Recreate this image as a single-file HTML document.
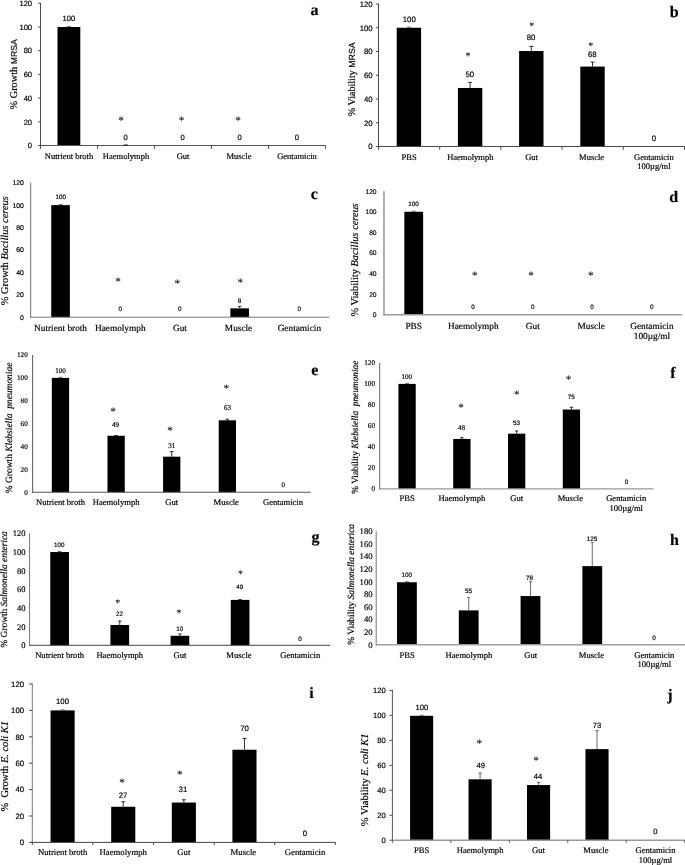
<!DOCTYPE html>
<html lang="en"><head><meta charset="utf-8"><title>Figure</title>
<style>
html,body{margin:0;padding:0;background:#fff;}
svg{display:block;}
text{fill:#000;text-rendering:geometricPrecision;stroke:#000;stroke-width:0.18px;}
.s{font-family:'Liberation Sans', sans-serif;}
.r{font-family:'Liberation Serif', serif;}
.m{text-anchor:middle;} .e{text-anchor:end;} .b{text-anchor:start;}
</style></head><body>
<svg width="685" height="865" viewBox="0 0 685 865">
<rect x="0" y="0" width="685" height="865" fill="#ffffff"/>
<rect x="57.50" y="27.00" width="22.80" height="118.50" fill="#000"/>
<line x1="66.90" y1="26.45" x2="70.90" y2="26.45" stroke="#333" stroke-width="0.7"/>
<line x1="40.50" y1="2.80" x2="40.50" y2="146.00" stroke="#4a4a4a" stroke-width="1.0"/>
<line x1="40.00" y1="145.50" x2="325.50" y2="145.50" stroke="#555" stroke-width="1.0"/>
<line x1="37.90" y1="145.50" x2="40.50" y2="145.50" stroke="#555" stroke-width="1.0"/>
<line x1="37.90" y1="121.80" x2="40.50" y2="121.80" stroke="#555" stroke-width="1.0"/>
<line x1="37.90" y1="98.10" x2="40.50" y2="98.10" stroke="#555" stroke-width="1.0"/>
<line x1="37.90" y1="74.40" x2="40.50" y2="74.40" stroke="#555" stroke-width="1.0"/>
<line x1="37.90" y1="50.70" x2="40.50" y2="50.70" stroke="#555" stroke-width="1.0"/>
<line x1="37.90" y1="27.00" x2="40.50" y2="27.00" stroke="#555" stroke-width="1.0"/>
<line x1="37.90" y1="3.30" x2="40.50" y2="3.30" stroke="#555" stroke-width="1.0"/>
<line x1="40.50" y1="145.50" x2="40.50" y2="148.80" stroke="#4a4a4a" stroke-width="1.0"/>
<line x1="97.50" y1="145.50" x2="97.50" y2="148.80" stroke="#4a4a4a" stroke-width="1.0"/>
<line x1="154.50" y1="145.50" x2="154.50" y2="148.80" stroke="#4a4a4a" stroke-width="1.0"/>
<line x1="211.50" y1="145.50" x2="211.50" y2="148.80" stroke="#4a4a4a" stroke-width="1.0"/>
<line x1="268.50" y1="145.50" x2="268.50" y2="148.80" stroke="#4a4a4a" stroke-width="1.0"/>
<line x1="325.50" y1="145.50" x2="325.50" y2="148.80" stroke="#4a4a4a" stroke-width="1.0"/>
<text class="s e" x="32.10" y="148.24" font-size="7.6">0</text>
<text class="s e" x="32.10" y="124.54" font-size="7.6">20</text>
<text class="s e" x="32.10" y="100.84" font-size="7.6">40</text>
<text class="s e" x="32.10" y="77.14" font-size="7.6">60</text>
<text class="s e" x="32.10" y="53.44" font-size="7.6">80</text>
<text class="s e" x="32.10" y="29.74" font-size="7.6">100</text>
<text class="s e" x="32.10" y="6.04" font-size="7.6">120</text>
<text class="r m" x="69.00" y="159.00" font-size="8.5">Nutrient broth</text>
<text class="r m" x="126.00" y="159.00" font-size="8.5">Haemolymph</text>
<text class="r m" x="183.00" y="159.00" font-size="8.5">Gut</text>
<text class="r m" x="238.90" y="159.00" font-size="8.5">Muscle</text>
<text class="r m" x="297.00" y="159.00" font-size="8.5">Gentamicin</text>
<text class="s m" x="68.80" y="21.04" font-size="7.6">100</text>
<text class="s m" x="125.60" y="139.84" font-size="7.6">0</text>
<text class="s m" x="182.60" y="139.84" font-size="7.6">0</text>
<text class="s m" x="239.60" y="139.84" font-size="7.6">0</text>
<text class="s m" x="296.80" y="139.84" font-size="7.6">0</text>
<text class="r m" x="121.00" y="123.82" font-size="11.2" style="stroke-width:0.1px">*</text>
<text class="r m" x="181.50" y="124.32" font-size="11.2" style="stroke-width:0.1px">*</text>
<text class="r m" x="238.00" y="123.82" font-size="11.2" style="stroke-width:0.1px">*</text>
<text class="r m" transform="translate(17.40,74.30) rotate(-90)" font-size="10.3" xml:space="preserve" style="white-space:pre"><tspan class="r">% Growth </tspan><tspan class="s" font-size="8.7">MRSA</tspan></text>
<line x1="123.80" y1="145.00" x2="127.90" y2="145.00" stroke="#000" stroke-width="0.9"/>
<text class="r m" x="314.60" y="14.70" font-size="16" font-weight="bold">a</text>
<rect x="396.70" y="27.75" width="24.40" height="118.75" fill="#000"/>
<line x1="406.90" y1="27.20" x2="410.90" y2="27.20" stroke="#333" stroke-width="0.7"/>
<rect x="457.90" y="87.96" width="24.40" height="58.54" fill="#000"/>
<line x1="470.10" y1="87.96" x2="470.10" y2="82.38" stroke="#000" stroke-width="0.8"/>
<line x1="468.10" y1="82.38" x2="472.10" y2="82.38" stroke="#000" stroke-width="0.8"/>
<rect x="519.10" y="51.02" width="24.40" height="95.48" fill="#000"/>
<line x1="531.30" y1="51.02" x2="531.30" y2="46.39" stroke="#000" stroke-width="0.8"/>
<line x1="529.30" y1="46.39" x2="533.30" y2="46.39" stroke="#000" stroke-width="0.8"/>
<rect x="580.30" y="66.58" width="24.40" height="79.92" fill="#000"/>
<line x1="592.50" y1="66.58" x2="592.50" y2="62.07" stroke="#000" stroke-width="0.8"/>
<line x1="590.50" y1="62.07" x2="594.50" y2="62.07" stroke="#000" stroke-width="0.8"/>
<line x1="378.50" y1="3.50" x2="378.50" y2="147.00" stroke="#4a4a4a" stroke-width="1.0"/>
<line x1="378.00" y1="146.50" x2="684.50" y2="146.50" stroke="#4a4a4a" stroke-width="1.0"/>
<line x1="375.90" y1="146.50" x2="378.50" y2="146.50" stroke="#4a4a4a" stroke-width="1.0"/>
<line x1="375.90" y1="122.75" x2="378.50" y2="122.75" stroke="#4a4a4a" stroke-width="1.0"/>
<line x1="375.90" y1="99.00" x2="378.50" y2="99.00" stroke="#4a4a4a" stroke-width="1.0"/>
<line x1="375.90" y1="75.25" x2="378.50" y2="75.25" stroke="#4a4a4a" stroke-width="1.0"/>
<line x1="375.90" y1="51.50" x2="378.50" y2="51.50" stroke="#4a4a4a" stroke-width="1.0"/>
<line x1="375.90" y1="27.75" x2="378.50" y2="27.75" stroke="#4a4a4a" stroke-width="1.0"/>
<line x1="375.90" y1="4.00" x2="378.50" y2="4.00" stroke="#4a4a4a" stroke-width="1.0"/>
<line x1="378.50" y1="146.50" x2="378.50" y2="149.80" stroke="#4a4a4a" stroke-width="1.0"/>
<line x1="439.70" y1="146.50" x2="439.70" y2="149.80" stroke="#4a4a4a" stroke-width="1.0"/>
<line x1="500.90" y1="146.50" x2="500.90" y2="149.80" stroke="#4a4a4a" stroke-width="1.0"/>
<line x1="562.10" y1="146.50" x2="562.10" y2="149.80" stroke="#4a4a4a" stroke-width="1.0"/>
<line x1="623.30" y1="146.50" x2="623.30" y2="149.80" stroke="#4a4a4a" stroke-width="1.0"/>
<line x1="684.50" y1="146.50" x2="684.50" y2="149.80" stroke="#4a4a4a" stroke-width="1.0"/>
<text class="s e" x="372.70" y="149.31" font-size="7.8">0</text>
<text class="s e" x="372.70" y="125.56" font-size="7.8">20</text>
<text class="s e" x="372.70" y="101.81" font-size="7.8">40</text>
<text class="s e" x="372.70" y="78.06" font-size="7.8">60</text>
<text class="s e" x="372.70" y="54.31" font-size="7.8">80</text>
<text class="s e" x="372.70" y="30.56" font-size="7.8">100</text>
<text class="s e" x="372.70" y="6.81" font-size="7.8">120</text>
<text class="r m" x="409.10" y="160.20" font-size="8.5">PBS</text>
<text class="r m" x="470.30" y="160.20" font-size="8.5">Haemolymph</text>
<text class="r m" x="531.50" y="160.20" font-size="8.5">Gut</text>
<text class="r m" x="591.60" y="160.20" font-size="8.5">Muscle</text>
<text class="r m" x="653.90" y="160.20" font-size="8.5">Gentamicin</text>
<text class="r m" x="653.90" y="169.40" font-size="8.5">100µg/ml</text>
<text class="s m" x="409.30" y="22.11" font-size="7.8">100</text>
<text class="s m" x="469.80" y="77.11" font-size="7.8">50</text>
<text class="s m" x="531.10" y="40.01" font-size="7.8">80</text>
<text class="s m" x="592.30" y="57.01" font-size="7.8">68</text>
<text class="s m" x="653.90" y="140.91" font-size="7.8">0</text>
<text class="r m" x="468.00" y="58.95" font-size="10" style="stroke-width:0.1px">*</text>
<text class="r m" x="531.80" y="28.85" font-size="10" style="stroke-width:0.1px">*</text>
<text class="r m" x="590.80" y="49.45" font-size="10" style="stroke-width:0.1px">*</text>
<text class="r m" transform="translate(354.90,79.30) rotate(-90)" font-size="10.1" xml:space="preserve" style="white-space:pre"><tspan class="r">% Viability </tspan><tspan class="s" font-size="8.8">MRSA</tspan></text>
<text class="r m" x="674.20" y="16.60" font-size="16" font-weight="bold">b</text>
<rect x="51.25" y="205.12" width="18.60" height="112.08" fill="#000"/>
<line x1="58.55" y1="204.57" x2="62.55" y2="204.57" stroke="#333" stroke-width="0.7"/>
<rect x="230.35" y="308.35" width="18.60" height="8.85" fill="#000"/>
<line x1="239.65" y1="308.35" x2="239.65" y2="306.33" stroke="#000" stroke-width="0.8"/>
<line x1="237.90" y1="306.33" x2="241.40" y2="306.33" stroke="#000" stroke-width="0.8"/>
<line x1="30.70" y1="182.70" x2="30.70" y2="317.70" stroke="#6e6e6e" stroke-width="1.0"/>
<line x1="30.20" y1="317.20" x2="329.20" y2="317.20" stroke="#777" stroke-width="1.0"/>
<text class="s e" x="23.90" y="319.68" font-size="6.9">0</text>
<text class="s e" x="23.90" y="297.27" font-size="6.9">20</text>
<text class="s e" x="23.90" y="274.85" font-size="6.9">40</text>
<text class="s e" x="23.90" y="252.43" font-size="6.9">60</text>
<text class="s e" x="23.90" y="230.02" font-size="6.9">80</text>
<text class="s e" x="23.90" y="207.60" font-size="6.9">100</text>
<text class="s e" x="23.90" y="185.18" font-size="6.9">120</text>
<text class="r m" x="60.55" y="330.70" font-size="9.3">Nutrient broth</text>
<text class="r m" x="120.25" y="330.70" font-size="9.3">Haemolymph</text>
<text class="r m" x="179.95" y="330.70" font-size="9.3">Gut</text>
<text class="r m" x="238.55" y="330.70" font-size="9.3">Muscle</text>
<text class="r m" x="299.35" y="330.70" font-size="9.3">Gentamicin</text>
<text class="s m" x="60.80" y="198.87" font-size="6.3">100</text>
<text class="s m" x="120.30" y="311.07" font-size="6.3">0</text>
<text class="s m" x="179.80" y="311.07" font-size="6.3">0</text>
<text class="s m" x="239.50" y="302.57" font-size="6.3">8</text>
<text class="s m" x="299.30" y="311.07" font-size="6.3">0</text>
<text class="r m" x="118.00" y="285.32" font-size="11.2" style="stroke-width:0.1px">*</text>
<text class="r m" x="177.30" y="287.32" font-size="11.2" style="stroke-width:0.1px">*</text>
<text class="r m" x="240.30" y="285.82" font-size="11.2" style="stroke-width:0.1px">*</text>
<text class="r m" transform="translate(8.00,250.70) rotate(-90)" font-size="10.4" xml:space="preserve" style="white-space:pre"><tspan class="r">% Growth </tspan><tspan class="r" font-style="italic">Bacillus cereus</tspan></text>
<text class="r m" x="314.40" y="198.90" font-size="16" font-weight="bold">c</text>
<rect x="404.33" y="211.78" width="18.80" height="102.92" fill="#000"/>
<line x1="411.73" y1="211.23" x2="415.73" y2="211.23" stroke="#333" stroke-width="0.7"/>
<line x1="383.95" y1="191.20" x2="383.95" y2="315.45" stroke="#999" stroke-width="1.5"/>
<line x1="383.20" y1="314.70" x2="681.70" y2="314.70" stroke="#999" stroke-width="1.5"/>
<text class="s e" x="376.60" y="317.11" font-size="6.7">0</text>
<text class="s e" x="376.60" y="296.53" font-size="6.7">20</text>
<text class="s e" x="376.60" y="275.95" font-size="6.7">40</text>
<text class="s e" x="376.60" y="255.36" font-size="6.7">60</text>
<text class="s e" x="376.60" y="234.78" font-size="6.7">80</text>
<text class="s e" x="376.60" y="214.20" font-size="6.7">100</text>
<text class="s e" x="376.60" y="193.61" font-size="6.7">120</text>
<text class="r m" x="413.73" y="328.90" font-size="9.3">PBS</text>
<text class="r m" x="473.27" y="328.90" font-size="9.3">Haemolymph</text>
<text class="r m" x="532.83" y="328.90" font-size="9.3">Gut</text>
<text class="r m" x="591.27" y="328.90" font-size="9.3">Muscle</text>
<text class="r m" x="651.92" y="328.90" font-size="9.3">Gentamicin</text>
<text class="r m" x="651.92" y="338.70" font-size="9.3">100µg/ml</text>
<text class="s m" x="413.50" y="205.87" font-size="6.3">100</text>
<text class="s m" x="473.10" y="309.07" font-size="6.3">0</text>
<text class="s m" x="532.80" y="309.07" font-size="6.3">0</text>
<text class="s m" x="592.10" y="309.07" font-size="6.3">0</text>
<text class="s m" x="651.80" y="309.07" font-size="6.3">0</text>
<text class="r m" x="474.80" y="278.72" font-size="11.2" style="stroke-width:0.1px">*</text>
<text class="r m" x="531.10" y="278.72" font-size="11.2" style="stroke-width:0.1px">*</text>
<text class="r m" x="590.80" y="278.72" font-size="11.2" style="stroke-width:0.1px">*</text>
<text class="r m" transform="translate(358.00,259.80) rotate(-90)" font-size="10.4" xml:space="preserve" style="white-space:pre"><tspan class="r">% Viability </tspan><tspan class="r" font-style="italic">Bacillus cereus</tspan></text>
<text class="r m" x="673.70" y="201.60" font-size="16" font-weight="bold">d</text>
<rect x="51.82" y="377.88" width="17.30" height="114.38" fill="#000"/>
<line x1="58.47" y1="377.32" x2="62.47" y2="377.32" stroke="#333" stroke-width="0.7"/>
<rect x="107.45" y="435.75" width="17.30" height="56.50" fill="#000"/>
<line x1="116.10" y1="435.75" x2="116.10" y2="435.41" stroke="#000" stroke-width="0.8"/>
<line x1="114.35" y1="435.41" x2="117.85" y2="435.41" stroke="#000" stroke-width="0.8"/>
<rect x="163.08" y="456.68" width="17.30" height="35.57" fill="#000"/>
<line x1="171.73" y1="456.68" x2="171.73" y2="451.65" stroke="#000" stroke-width="0.8"/>
<line x1="169.98" y1="451.65" x2="173.48" y2="451.65" stroke="#000" stroke-width="0.8"/>
<rect x="218.71" y="420.31" width="17.30" height="71.94" fill="#000"/>
<line x1="227.36" y1="420.31" x2="227.36" y2="419.16" stroke="#000" stroke-width="0.8"/>
<line x1="225.61" y1="419.16" x2="229.11" y2="419.16" stroke="#000" stroke-width="0.8"/>
<line x1="32.65" y1="355.00" x2="32.65" y2="492.75" stroke="#555" stroke-width="1.0"/>
<line x1="32.15" y1="492.25" x2="310.80" y2="492.25" stroke="#555" stroke-width="1.0"/>
<text class="r e" x="27.80" y="494.66" font-size="7.2">0</text>
<text class="r e" x="27.80" y="471.79" font-size="7.2">20</text>
<text class="r e" x="27.80" y="448.91" font-size="7.2">40</text>
<text class="r e" x="27.80" y="426.04" font-size="7.2">60</text>
<text class="r e" x="27.80" y="403.16" font-size="7.2">80</text>
<text class="r e" x="27.80" y="380.29" font-size="7.2">100</text>
<text class="r e" x="27.80" y="357.41" font-size="7.2">120</text>
<text class="r m" x="60.47" y="505.00" font-size="8.6">Nutrient broth</text>
<text class="r m" x="116.10" y="505.00" font-size="8.6">Haemolymph</text>
<text class="r m" x="171.73" y="505.00" font-size="8.6">Gut</text>
<text class="r m" x="226.26" y="505.00" font-size="8.6">Muscle</text>
<text class="r m" x="282.99" y="505.00" font-size="8.6">Gentamicin</text>
<text class="r m" x="60.50" y="372.98" font-size="7.1">100</text>
<text class="r m" x="115.50" y="427.28" font-size="7.1">49</text>
<text class="r m" x="171.80" y="448.08" font-size="7.1">31</text>
<text class="r m" x="227.50" y="410.18" font-size="7.1">63</text>
<text class="r m" x="283.20" y="487.28" font-size="7.1">0</text>
<text class="r m" x="113.00" y="414.82" font-size="11.2" style="stroke-width:0.1px">*</text>
<text class="r m" x="170.00" y="434.42" font-size="11.2" style="stroke-width:0.1px">*</text>
<text class="r m" x="226.20" y="391.52" font-size="11.2" style="stroke-width:0.1px">*</text>
<text class="r m" transform="translate(12.00,427.90) rotate(-90)" font-size="9.45" xml:space="preserve" style="white-space:pre"><tspan class="r">% Growth </tspan><tspan class="r" font-style="italic">Klebsiella  pneumoniae</tspan></text>
<text class="r m" x="314.90" y="375.30" font-size="16" font-weight="bold">e</text>
<rect x="398.44" y="383.90" width="17.30" height="105.00" fill="#000"/>
<line x1="405.09" y1="383.35" x2="409.09" y2="383.35" stroke="#333" stroke-width="0.7"/>
<rect x="453.22" y="438.92" width="17.30" height="49.98" fill="#000"/>
<line x1="461.87" y1="438.92" x2="461.87" y2="437.66" stroke="#000" stroke-width="0.8"/>
<line x1="460.12" y1="437.66" x2="463.62" y2="437.66" stroke="#000" stroke-width="0.8"/>
<rect x="508.00" y="433.67" width="17.30" height="55.23" fill="#000"/>
<line x1="516.65" y1="433.67" x2="516.65" y2="430.94" stroke="#000" stroke-width="0.8"/>
<line x1="514.90" y1="430.94" x2="518.40" y2="430.94" stroke="#000" stroke-width="0.8"/>
<rect x="562.78" y="409.52" width="17.30" height="79.38" fill="#000"/>
<line x1="571.43" y1="409.52" x2="571.43" y2="407.31" stroke="#000" stroke-width="0.8"/>
<line x1="569.68" y1="407.31" x2="573.18" y2="407.31" stroke="#000" stroke-width="0.8"/>
<line x1="379.70" y1="362.90" x2="379.70" y2="489.55" stroke="#666" stroke-width="1.0"/>
<line x1="379.20" y1="488.90" x2="653.60" y2="488.90" stroke="#999" stroke-width="1.3"/>
<text class="r e" x="375.10" y="491.35" font-size="7.3">0</text>
<text class="r e" x="375.10" y="470.35" font-size="7.3">20</text>
<text class="r e" x="375.10" y="449.35" font-size="7.3">40</text>
<text class="r e" x="375.10" y="428.35" font-size="7.3">60</text>
<text class="r e" x="375.10" y="407.35" font-size="7.3">80</text>
<text class="r e" x="375.10" y="386.35" font-size="7.3">100</text>
<text class="r e" x="375.10" y="365.35" font-size="7.3">120</text>
<text class="r m" x="407.09" y="501.40" font-size="8.6">PBS</text>
<text class="r m" x="461.87" y="501.40" font-size="8.6">Haemolymph</text>
<text class="r m" x="516.65" y="501.40" font-size="8.6">Gut</text>
<text class="r m" x="570.33" y="501.40" font-size="8.6">Muscle</text>
<text class="r m" x="626.21" y="501.40" font-size="8.6">Gentamicin</text>
<text class="r m" x="626.21" y="511.20" font-size="8.6">100µg/ml</text>
<text class="r m" x="406.80" y="378.78" font-size="7.1">100</text>
<text class="r m" x="461.50" y="430.48" font-size="7.1">48</text>
<text class="s m" x="516.40" y="424.87" font-size="6.3">53</text>
<text class="s m" x="571.30" y="399.27" font-size="6.3">75</text>
<text class="s m" x="626.50" y="484.17" font-size="6.3">0</text>
<text class="r m" x="461.00" y="410.62" font-size="11.2" style="stroke-width:0.1px">*</text>
<text class="r m" x="516.90" y="398.32" font-size="11.2" style="stroke-width:0.1px">*</text>
<text class="r m" x="568.60" y="383.02" font-size="11.2" style="stroke-width:0.1px">*</text>
<text class="r m" transform="translate(357.60,427.20) rotate(-90)" font-size="9.35" xml:space="preserve" style="white-space:pre"><tspan class="r">% Viability </tspan><tspan class="r" font-style="italic">Klebsiella  pneumoniae</tspan></text>
<text class="r m" x="673.00" y="378.10" font-size="16" font-weight="bold">f</text>
<rect x="50.27" y="552.05" width="18.70" height="93.25" fill="#000"/>
<line x1="57.62" y1="551.50" x2="61.62" y2="551.50" stroke="#333" stroke-width="0.7"/>
<rect x="110.42" y="624.97" width="18.70" height="20.33" fill="#000"/>
<line x1="119.77" y1="624.97" x2="119.77" y2="621.15" stroke="#000" stroke-width="0.8"/>
<line x1="118.02" y1="621.15" x2="121.52" y2="621.15" stroke="#000" stroke-width="0.8"/>
<rect x="170.58" y="635.79" width="18.70" height="9.51" fill="#000"/>
<line x1="179.93" y1="635.79" x2="179.93" y2="634.02" stroke="#000" stroke-width="0.8"/>
<line x1="178.18" y1="634.02" x2="181.68" y2="634.02" stroke="#000" stroke-width="0.8"/>
<rect x="230.73" y="599.89" width="18.70" height="45.41" fill="#000"/>
<line x1="240.08" y1="599.89" x2="240.08" y2="599.61" stroke="#000" stroke-width="0.8"/>
<line x1="238.33" y1="599.61" x2="241.83" y2="599.61" stroke="#000" stroke-width="0.8"/>
<line x1="29.55" y1="533.40" x2="29.55" y2="645.80" stroke="#777" stroke-width="1.0"/>
<line x1="29.05" y1="645.30" x2="330.30" y2="645.30" stroke="#444" stroke-width="1.0"/>
<text class="r e" x="25.60" y="648.15" font-size="8.5">0</text>
<text class="r e" x="25.60" y="629.50" font-size="8.5">20</text>
<text class="r e" x="25.60" y="610.85" font-size="8.5">40</text>
<text class="r e" x="25.60" y="592.20" font-size="8.5">60</text>
<text class="r e" x="25.60" y="573.55" font-size="8.5">80</text>
<text class="r e" x="25.60" y="554.90" font-size="8.5">100</text>
<text class="r e" x="25.60" y="536.25" font-size="8.5">120</text>
<text class="r m" x="59.62" y="658.20" font-size="8.6">Nutrient broth</text>
<text class="r m" x="119.77" y="658.20" font-size="8.6">Haemolymph</text>
<text class="r m" x="179.93" y="658.20" font-size="8.6">Gut</text>
<text class="r m" x="238.98" y="658.20" font-size="8.6">Muscle</text>
<text class="r m" x="300.23" y="658.20" font-size="8.6">Gentamicin</text>
<text class="s m" x="59.30" y="546.97" font-size="6.3">100</text>
<text class="s m" x="119.60" y="615.97" font-size="6.3">22</text>
<text class="s m" x="179.80" y="630.77" font-size="6.3">10</text>
<text class="s m" x="239.80" y="589.37" font-size="6.3">49</text>
<text class="s m" x="300.00" y="640.57" font-size="6.3">0</text>
<text class="r m" x="117.80" y="606.15" font-size="10" style="stroke-width:0.1px">*</text>
<text class="r m" x="179.10" y="615.95" font-size="10" style="stroke-width:0.1px">*</text>
<text class="r m" x="240.60" y="577.05" font-size="10" style="stroke-width:0.1px">*</text>
<text class="r m" transform="translate(6.60,589.40) rotate(-90)" font-size="9.4" xml:space="preserve" style="white-space:pre"><tspan class="r">% Growth </tspan><tspan class="r" font-style="italic">Salmonella enterica</tspan></text>
<text class="r m" x="315.50" y="541.90" font-size="16" font-weight="bold">g</text>
<rect x="397.03" y="582.25" width="19.80" height="62.55" fill="#000"/>
<line x1="404.93" y1="581.70" x2="408.93" y2="581.70" stroke="#333" stroke-width="0.7"/>
<rect x="458.81" y="610.37" width="19.80" height="34.43" fill="#000"/>
<line x1="468.71" y1="610.37" x2="468.71" y2="597.51" stroke="#4a4a4a" stroke-width="0.8"/>
<line x1="467.21" y1="597.51" x2="470.21" y2="597.51" stroke="#4a4a4a" stroke-width="0.8"/>
<rect x="520.59" y="596.06" width="19.80" height="48.74" fill="#000"/>
<line x1="530.49" y1="596.06" x2="530.49" y2="581.74" stroke="#4a4a4a" stroke-width="0.8"/>
<line x1="528.99" y1="581.74" x2="531.99" y2="581.74" stroke="#4a4a4a" stroke-width="0.8"/>
<rect x="582.37" y="566.11" width="19.80" height="78.69" fill="#000"/>
<line x1="592.27" y1="566.11" x2="592.27" y2="542.33" stroke="#4a4a4a" stroke-width="0.8"/>
<line x1="590.77" y1="542.33" x2="593.77" y2="542.33" stroke="#4a4a4a" stroke-width="0.8"/>
<line x1="376.30" y1="531.30" x2="376.30" y2="645.55" stroke="#a0a0a0" stroke-width="1.5"/>
<line x1="375.55" y1="644.80" x2="685.20" y2="644.80" stroke="#a0a0a0" stroke-width="1.5"/>
<text class="r e" x="372.50" y="647.68" font-size="8.6">0</text>
<text class="r e" x="372.50" y="635.07" font-size="8.6">20</text>
<text class="r e" x="372.50" y="622.46" font-size="8.6">40</text>
<text class="r e" x="372.50" y="609.85" font-size="8.6">60</text>
<text class="r e" x="372.50" y="597.24" font-size="8.6">80</text>
<text class="r e" x="372.50" y="584.63" font-size="8.6">100</text>
<text class="r e" x="372.50" y="572.01" font-size="8.6">120</text>
<text class="r e" x="372.50" y="559.40" font-size="8.6">140</text>
<text class="r e" x="372.50" y="546.79" font-size="8.6">160</text>
<text class="r e" x="372.50" y="534.18" font-size="8.6">180</text>
<text class="r m" x="407.19" y="657.90" font-size="8.6">PBS</text>
<text class="r m" x="468.97" y="657.90" font-size="8.6">Haemolymph</text>
<text class="r m" x="530.75" y="657.90" font-size="8.6">Gut</text>
<text class="r m" x="591.43" y="657.90" font-size="8.6">Muscle</text>
<text class="r m" x="654.31" y="657.90" font-size="8.6">Gentamicin</text>
<text class="r m" x="654.31" y="667.10" font-size="8.6">100µg/ml</text>
<text class="s m" x="406.80" y="576.77" font-size="6.3">100</text>
<text class="s m" x="468.50" y="592.67" font-size="6.3">55</text>
<text class="s m" x="529.60" y="579.87" font-size="6.3">78</text>
<text class="s m" x="592.10" y="540.67" font-size="6.3">125</text>
<text class="s m" x="653.90" y="639.57" font-size="6.3">0</text>
<text class="r m" transform="translate(353.80,584.30) rotate(-90)" font-size="9.42" xml:space="preserve" style="white-space:pre"><tspan class="r">% Viability </tspan><tspan class="r" font-style="italic">Salmonella enterica</tspan></text>
<text class="r m" x="674.40" y="544.70" font-size="16" font-weight="bold">h</text>
<rect x="50.56" y="710.40" width="24.10" height="132.00" fill="#000"/>
<line x1="60.61" y1="709.85" x2="64.61" y2="709.85" stroke="#333" stroke-width="0.7"/>
<rect x="111.18" y="806.76" width="24.10" height="35.64" fill="#000"/>
<line x1="123.23" y1="806.76" x2="123.23" y2="801.74" stroke="#000" stroke-width="0.8"/>
<line x1="121.23" y1="801.74" x2="125.23" y2="801.74" stroke="#000" stroke-width="0.8"/>
<rect x="171.80" y="802.54" width="24.10" height="39.86" fill="#000"/>
<line x1="183.85" y1="802.54" x2="183.85" y2="799.76" stroke="#000" stroke-width="0.8"/>
<line x1="181.85" y1="799.76" x2="185.85" y2="799.76" stroke="#000" stroke-width="0.8"/>
<rect x="232.42" y="749.74" width="24.10" height="92.66" fill="#000"/>
<line x1="244.47" y1="749.74" x2="244.47" y2="738.52" stroke="#000" stroke-width="0.8"/>
<line x1="242.47" y1="738.52" x2="246.47" y2="738.52" stroke="#000" stroke-width="0.8"/>
<line x1="32.30" y1="683.50" x2="32.30" y2="842.90" stroke="#777" stroke-width="1.0"/>
<line x1="31.80" y1="842.40" x2="335.40" y2="842.40" stroke="#444" stroke-width="1.0"/>
<line x1="29.10" y1="842.40" x2="32.30" y2="842.40" stroke="#444" stroke-width="1.0"/>
<line x1="29.10" y1="816.00" x2="32.30" y2="816.00" stroke="#444" stroke-width="1.0"/>
<line x1="29.10" y1="789.60" x2="32.30" y2="789.60" stroke="#444" stroke-width="1.0"/>
<line x1="29.10" y1="763.20" x2="32.30" y2="763.20" stroke="#444" stroke-width="1.0"/>
<line x1="29.10" y1="736.80" x2="32.30" y2="736.80" stroke="#444" stroke-width="1.0"/>
<line x1="29.10" y1="710.40" x2="32.30" y2="710.40" stroke="#444" stroke-width="1.0"/>
<line x1="29.10" y1="684.00" x2="32.30" y2="684.00" stroke="#444" stroke-width="1.0"/>
<line x1="32.30" y1="842.40" x2="32.30" y2="845.00" stroke="#444" stroke-width="1.0"/>
<line x1="92.92" y1="842.40" x2="92.92" y2="845.00" stroke="#444" stroke-width="1.0"/>
<line x1="153.54" y1="842.40" x2="153.54" y2="845.00" stroke="#444" stroke-width="1.0"/>
<line x1="214.16" y1="842.40" x2="214.16" y2="845.00" stroke="#444" stroke-width="1.0"/>
<line x1="274.78" y1="842.40" x2="274.78" y2="845.00" stroke="#444" stroke-width="1.0"/>
<line x1="335.40" y1="842.40" x2="335.40" y2="845.00" stroke="#444" stroke-width="1.0"/>
<text class="s e" x="24.10" y="845.21" font-size="7.8">0</text>
<text class="s e" x="24.10" y="818.81" font-size="7.8">20</text>
<text class="s e" x="24.10" y="792.41" font-size="7.8">40</text>
<text class="s e" x="24.10" y="766.01" font-size="7.8">60</text>
<text class="s e" x="24.10" y="739.61" font-size="7.8">80</text>
<text class="s e" x="24.10" y="713.21" font-size="7.8">100</text>
<text class="s e" x="24.10" y="686.81" font-size="7.8">120</text>
<text class="r m" x="62.61" y="855.20" font-size="8.7">Nutrient broth</text>
<text class="r m" x="123.23" y="855.20" font-size="8.7">Haemolymph</text>
<text class="r m" x="183.85" y="855.20" font-size="8.7">Gut</text>
<text class="r m" x="243.37" y="855.20" font-size="8.7">Muscle</text>
<text class="r m" x="305.09" y="855.20" font-size="8.7">Gentamicin</text>
<text class="s m" x="62.50" y="704.41" font-size="7.8">100</text>
<text class="s m" x="123.00" y="797.51" font-size="7.8">27</text>
<text class="s m" x="182.90" y="792.21" font-size="7.8">31</text>
<text class="s m" x="244.60" y="731.31" font-size="7.8">70</text>
<text class="s m" x="304.80" y="836.21" font-size="7.8">0</text>
<text class="r m" x="122.00" y="785.72" font-size="11.2" style="stroke-width:0.1px">*</text>
<text class="r m" x="179.80" y="778.22" font-size="11.2" style="stroke-width:0.1px">*</text>
<text class="r m" transform="translate(7.80,766.30) rotate(-90)" font-size="10.45" xml:space="preserve" style="white-space:pre"><tspan class="r">%  Growth </tspan><tspan class="r" font-style="italic">E. coli K1</tspan></text>
<text class="r m" x="311.60" y="697.60" font-size="16" font-weight="bold">i</text>
<rect x="410.08" y="715.82" width="23.10" height="124.38" fill="#000"/>
<line x1="419.63" y1="715.27" x2="423.63" y2="715.27" stroke="#333" stroke-width="0.7"/>
<rect x="468.54" y="779.32" width="23.10" height="60.88" fill="#000"/>
<line x1="480.09" y1="779.32" x2="480.09" y2="773.08" stroke="#444" stroke-width="0.8"/>
<line x1="478.34" y1="773.08" x2="481.84" y2="773.08" stroke="#444" stroke-width="0.8"/>
<rect x="527.00" y="785.06" width="23.10" height="55.14" fill="#000"/>
<line x1="538.55" y1="785.06" x2="538.55" y2="782.32" stroke="#444" stroke-width="0.8"/>
<line x1="536.80" y1="782.32" x2="540.30" y2="782.32" stroke="#444" stroke-width="0.8"/>
<rect x="585.46" y="749.13" width="23.10" height="91.07" fill="#000"/>
<line x1="597.01" y1="749.13" x2="597.01" y2="730.67" stroke="#444" stroke-width="0.8"/>
<line x1="595.26" y1="730.67" x2="598.76" y2="730.67" stroke="#444" stroke-width="0.8"/>
<line x1="392.40" y1="689.70" x2="392.40" y2="841.00" stroke="#555" stroke-width="1.0"/>
<line x1="391.90" y1="840.20" x2="684.70" y2="840.20" stroke="#999" stroke-width="1.6"/>
<line x1="389.40" y1="840.20" x2="392.40" y2="840.20" stroke="#555" stroke-width="1.0"/>
<line x1="389.40" y1="815.25" x2="392.40" y2="815.25" stroke="#555" stroke-width="1.0"/>
<line x1="389.40" y1="790.30" x2="392.40" y2="790.30" stroke="#555" stroke-width="1.0"/>
<line x1="389.40" y1="765.35" x2="392.40" y2="765.35" stroke="#555" stroke-width="1.0"/>
<line x1="389.40" y1="740.40" x2="392.40" y2="740.40" stroke="#555" stroke-width="1.0"/>
<line x1="389.40" y1="715.45" x2="392.40" y2="715.45" stroke="#555" stroke-width="1.0"/>
<line x1="389.40" y1="690.50" x2="392.40" y2="690.50" stroke="#555" stroke-width="1.0"/>
<line x1="392.40" y1="840.20" x2="392.40" y2="842.80" stroke="#555" stroke-width="1.0"/>
<line x1="450.86" y1="840.20" x2="450.86" y2="842.80" stroke="#555" stroke-width="1.0"/>
<line x1="509.32" y1="840.20" x2="509.32" y2="842.80" stroke="#555" stroke-width="1.0"/>
<line x1="567.78" y1="840.20" x2="567.78" y2="842.80" stroke="#555" stroke-width="1.0"/>
<line x1="626.24" y1="840.20" x2="626.24" y2="842.80" stroke="#555" stroke-width="1.0"/>
<line x1="684.70" y1="840.20" x2="684.70" y2="842.80" stroke="#555" stroke-width="1.0"/>
<text class="s e" x="385.70" y="842.94" font-size="7.6">0</text>
<text class="s e" x="385.70" y="817.99" font-size="7.6">20</text>
<text class="s e" x="385.70" y="793.04" font-size="7.6">40</text>
<text class="s e" x="385.70" y="768.09" font-size="7.6">60</text>
<text class="s e" x="385.70" y="743.14" font-size="7.6">80</text>
<text class="s e" x="385.70" y="718.19" font-size="7.6">100</text>
<text class="s e" x="385.70" y="693.24" font-size="7.6">120</text>
<text class="r m" x="421.63" y="853.10" font-size="8.6">PBS</text>
<text class="r m" x="480.09" y="853.10" font-size="8.6">Haemolymph</text>
<text class="r m" x="538.55" y="853.10" font-size="8.6">Gut</text>
<text class="r m" x="595.91" y="853.10" font-size="8.6">Muscle</text>
<text class="r m" x="655.47" y="853.10" font-size="8.6">Gentamicin</text>
<text class="r m" x="655.47" y="863.10" font-size="8.6">100µg/ml</text>
<text class="s m" x="421.80" y="709.84" font-size="7.6">100</text>
<text class="s m" x="480.80" y="768.14" font-size="7.6">49</text>
<text class="s m" x="538.10" y="778.84" font-size="7.6">44</text>
<text class="s m" x="596.90" y="727.74" font-size="7.6">73</text>
<text class="s m" x="655.40" y="833.64" font-size="7.6">0</text>
<text class="r m" x="479.30" y="747.32" font-size="11.2" style="stroke-width:0.1px">*</text>
<text class="r m" x="536.10" y="763.62" font-size="11.2" style="stroke-width:0.1px">*</text>
<text class="r m" transform="translate(367.90,779.80) rotate(-90)" font-size="10.5" xml:space="preserve" style="white-space:pre"><tspan class="r">% Viability </tspan><tspan class="r" font-style="italic">E. coli K1</tspan></text>
<text class="r m" x="669.90" y="700.00" font-size="16" font-weight="bold">j</text>
</svg>
</body></html>
